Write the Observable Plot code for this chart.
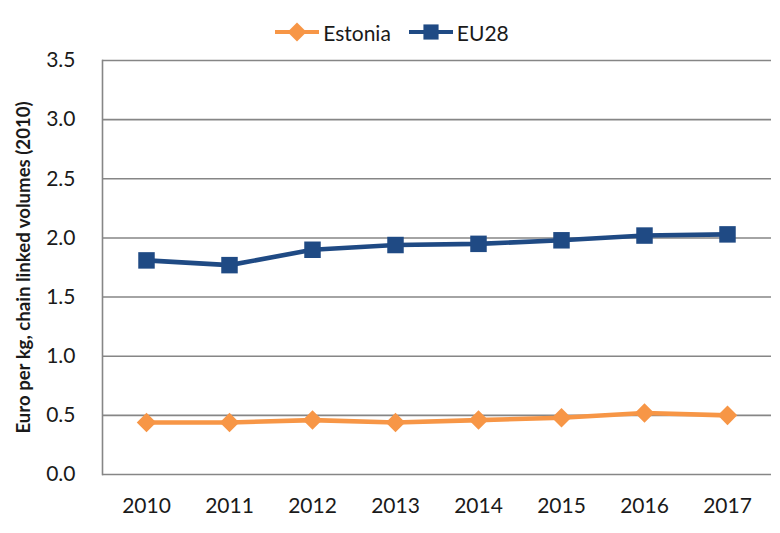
<!DOCTYPE html>
<html>
<head>
<meta charset="utf-8">
<script src="https://cdn.jsdelivr.net/npm/d3@7"></script>
<script src="https://cdn.jsdelivr.net/npm/@observablehq/plot@0.6"></script>
<style>
  body { margin: 0; background: #fff; font-family: Lato, "Open Sans", sans-serif; }
  #wrap { width: 780px; height: 533px; position: relative; }
  #legend { height: 46px; display: flex; justify-content: center; align-items: center; gap: 18px; padding-top: 18px; box-sizing: border-box; font-size: 21px; color: #1a1a1a; padding-left: 4px; }
  .item { display: flex; align-items: center; gap: 4px; }
  svg { display: block; }
</style>
</head>
<body>
<div id="wrap">
  <div id="legend"></div>
  <div id="chart"></div>
</div>
<script>
const years = ["2010", "2011", "2012", "2013", "2014", "2015", "2016", "2017"];
const estonia = [0.44, 0.44, 0.46, 0.44, 0.46, 0.48, 0.52, 0.50];
const eu28 = [1.81, 1.77, 1.90, 1.94, 1.95, 1.98, 2.02, 2.03];
const seriesNames = ["Estonia", "EU28"];
const seriesColors = ["#F79646", "#1F4A84"];
const seriesSymbols = ["diamond2", "square"];
const yTicks = [0, 0.5, 1.0, 1.5, 2.0, 2.5, 3.0, 3.5];
const yLabel = "Euro per kg, chain linked volumes (2010)";

const data = [];
years.forEach((yr, i) => {
  data.push({year: yr, value: estonia[i], series: seriesNames[0]});
  data.push({year: yr, value: eu28[i], series: seriesNames[1]});
});

// Legend
const legend = d3.select("#legend");
seriesNames.forEach((name, i) => {
  const item = legend.append("div").attr("class", "item");
  const s = item.append("svg").attr("width", 44).attr("height", 20);
  s.append("line").attr("x1", 0).attr("x2", 44).attr("y1", 10).attr("y2", 10)
    .attr("stroke", seriesColors[i]).attr("stroke-width", 4);
  const sym = i === 0 ? d3.symbolDiamond2 : d3.symbolSquare;
  const size = i === 0 ? 230 : 230;
  s.append("path").attr("d", d3.symbol(sym, size)()).attr("transform", "translate(22,10)")
    .attr("fill", seriesColors[i]);
  item.append("span").text(name);
});

const chart = Plot.plot({
  width: 780,
  height: 487,
  marginTop: 14,
  marginBottom: 59,
  marginLeft: 102,
  marginRight: 9,
  style: {fontFamily: "Lato, 'Open Sans', sans-serif", fontSize: "21px", color: "#1a1a1a", background: "#fff"},
  x: {type: "point", domain: years, padding: 0.5, label: null},
  y: {domain: [0, 3.5], label: null},
  color: {domain: seriesNames, range: seriesColors},
  symbol: {domain: seriesNames, range: seriesSymbols},
  marks: [
    Plot.gridY(yTicks, {stroke: "#868686", strokeOpacity: 1, strokeWidth: 1.6}),
    Plot.frame({anchor: "left", stroke: "#868686", strokeWidth: 1.6}),
    Plot.axisY(yTicks, {tickSize: 0, tickPadding: 27, tickFormat: d3.format(".1f"), fontSize: 21, label: null}),
    Plot.axisX({tickSize: 0, tickPadding: 24, fontSize: 21, label: null}),
    Plot.text([yLabel], {frameAnchor: "left", textAnchor: "middle", rotate: -90, dx: -78, fontWeight: "bold", fontSize: 18.6, fill: "#1a1a1a"}),
    Plot.lineY(data, {x: "year", y: "value", z: "series", stroke: "series", strokeWidth: 4.6}),
    Plot.dot(data, {filter: d => d.series === "EU28", x: "year", y: "value", symbol: "series", fill: "series", stroke: null, r: 9.3}),
    Plot.dot(data, {filter: d => d.series === "Estonia", x: "year", y: "value", symbol: "series", fill: "series", stroke: null, r: 8.8})
  ]
});
document.getElementById("chart").appendChild(chart);
</script>
</body>
</html>
